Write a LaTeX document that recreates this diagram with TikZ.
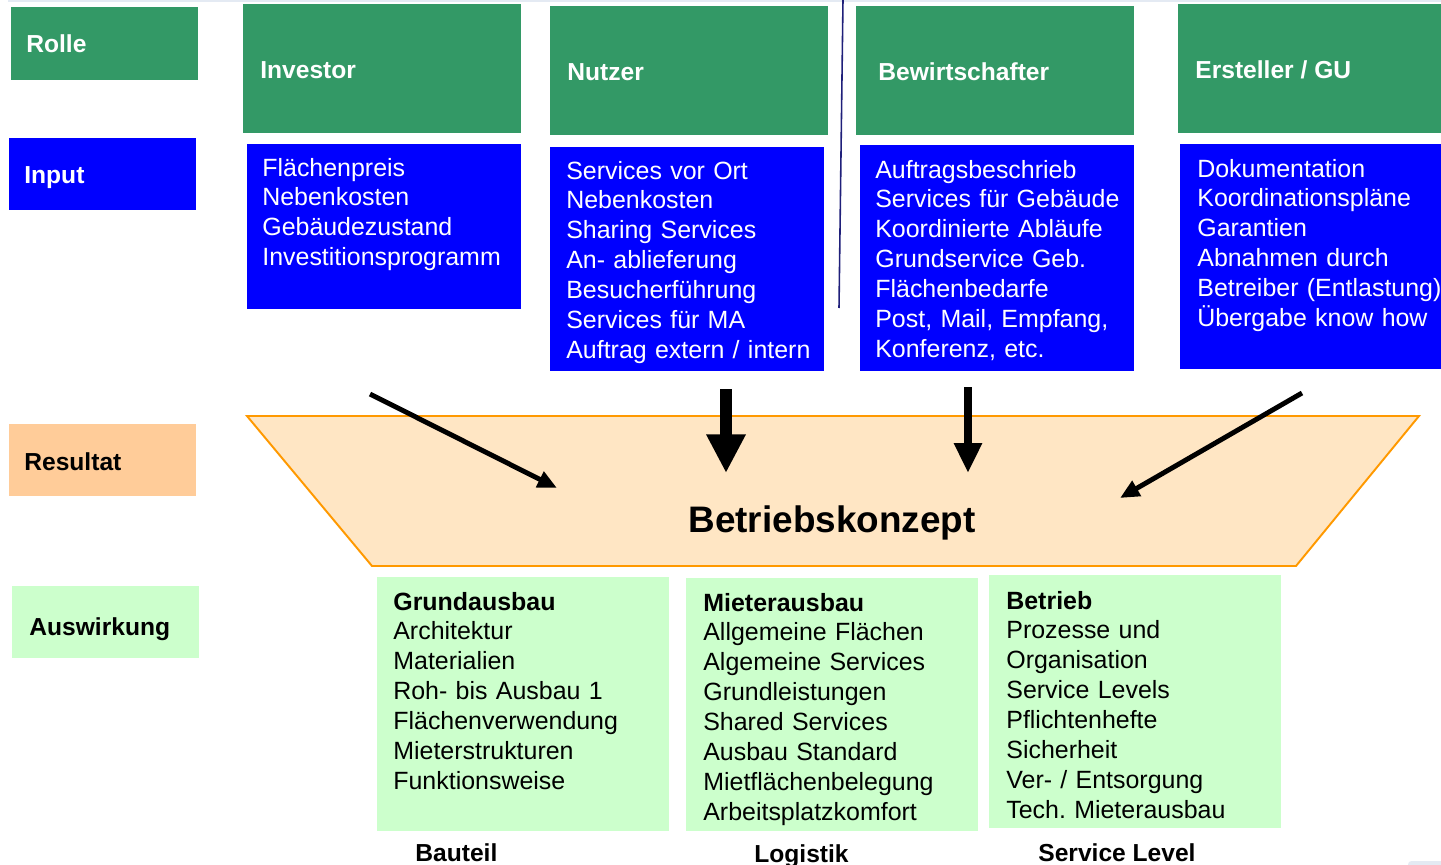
\documentclass[tikz,border=0pt]{standalone}
\usepackage{fontspec}
\setmainfont{Liberation Sans}
\usetikzlibrary{arrows.meta}
\definecolor{rolegreen}{RGB}{51,153,102}
\definecolor{inblue}{RGB}{0,0,255}
\definecolor{resorange}{RGB}{255,204,153}
\definecolor{effgreen}{RGB}{204,255,204}
\definecolor{konzeptfill}{RGB}{255,230,196}
\definecolor{konzeptline}{RGB}{255,153,0}
\definecolor{divider}{RGB}{31,31,122}
\definecolor{topline}{RGB}{228,234,243}
\tikzset{
  box/.style 2 args={anchor=north west, inner sep=0pt, minimum width=#1*0.02cm, minimum height=#2*0.02cm},
  lbl/.style={anchor=base west, inner sep=0pt, font=\bfseries\fontsize{14}{17}\selectfont},
  txt/.style={anchor=base west, inner sep=0pt, text width=#1*0.02cm, align=left, font=\fontsize{14.2}{17.07}\selectfont},
  flow/.style={draw=black, line cap=butt}
}

\begin{document}
\begin{tikzpicture}[x=0.02cm, y=-0.02cm]
\useasboundingbox (0,0) rectangle (1441,865);
\draw[topline, line width=0.8pt] (8,1) -- (1441,1);

\node[box={187}{73}, fill=rolegreen] (rolle) at (11,7) {};
\node[lbl, white] (rolleTxt) at (26,53) {Rolle};
\node[box={187}{72}, fill=inblue] (input) at (9,138) {};
\node[lbl, white] (inputTxt) at (24,184) {Input};
\node[box={187}{72}, fill=resorange] (resultat) at (9,424) {};
\node[lbl] (resultatTxt) at (24,470) {Resultat};
\node[box={187}{72}, fill=effgreen] (auswirkung) at (12,586) {};
\node[lbl] (auswirkungTxt) at (29,635) {Auswirkung};

\node[box={278}{129}, fill=rolegreen] (investor) at (243,4) {};
\node[lbl, white] (investorTxt) at (260,79) {Investor};
\node[box={278}{129}, fill=rolegreen] (nutzer) at (550,6) {};
\node[lbl, white] (nutzerTxt) at (567,81) {Nutzer};
\node[box={278}{129}, fill=rolegreen] (bewirt) at (856,6) {};
\node[lbl, white] (bewirtTxt) at (878,81) {Bewirtschafter};
\node[box={263}{129}, fill=rolegreen] (ersteller) at (1178,4) {};
\node[lbl, white] (erstellerTxt) at (1195,79) {Ersteller / GU};

\draw[divider, line width=0.9pt] (843,0) -- (839,308);

\node[box={274}{165}, fill=inblue] (investorIn) at (247,144) {};
\node[txt=255, white] (investorInTxt) at (262,176) {Flächenpreis\\Nebenkosten\\Gebäudezustand\\Investitionsprogramm};
\node[box={274}{224}, fill=inblue] (nutzerIn) at (550,147) {};
\node[txt=255, white] (nutzerInTxt) at (566,179) {Services vor Ort\\Nebenkosten\\Sharing Services\\An- ablieferung\\Besucherführung\\Services für MA\\Auftrag extern / intern};
\node[box={274}{226}, fill=inblue] (bewirtIn) at (860,145) {};
\node[txt=255, white] (bewirtInTxt) at (875,178) {Auftragsbeschrieb\\Services für Gebäude\\Koordinierte Abläufe\\Grundservice Geb.\\Flächenbedarfe\\Post, Mail, Empfang,\\Konferenz, etc.};
\node[box={261}{225}, fill=inblue] (erstellerIn) at (1180,144) {};
\node[txt=260, white] (erstellerInTxt) at (1197,177) {Dokumentation\\Koordinationspläne\\Garantien\\Abnahmen durch\\Betreiber (Entlastung)\\Übergabe know how};

\draw[konzeptline, fill=konzeptfill, line width=1.1pt] (247,416) -- (1419,416) -- (1296,566) -- (372,566) -- cycle;
\node[anchor=base, inner sep=0pt, font=\bfseries\fontsize{21}{25}\selectfont] (konzept) at (832,532) {Betriebskonzept};

\coordinate (fromInvestor) at (370,394);
\coordinate (toInvestor) at (557,488);
\coordinate (fromNutzer) at (726,389);
\coordinate (toNutzer) at (726,473);
\coordinate (fromBewirt) at (968,387);
\coordinate (toBewirt) at (968,473);
\coordinate (fromErsteller) at (1302,393);
\coordinate (toErsteller) at (1120,498);
\draw[flow, line width=2.8pt, -{Triangle[length=11pt,width=9.5pt]}] (fromInvestor) -- (toInvestor);
\draw[flow, line width=7pt, -{Triangle[length=22pt,width=21pt]}] (fromNutzer) -- (toNutzer);
\draw[flow, line width=5pt, -{Triangle[length=17pt,width=15pt]}] (fromBewirt) -- (toBewirt);
\draw[flow, line width=2.8pt, -{Triangle[length=11pt,width=9.5pt]}] (fromErsteller) -- (toErsteller);

\node[box={292}{254}, fill=effgreen] (grund) at (377,577) {};
\node[txt=275] (grundTxt) at (393,610) {\textbf{Grundausbau}\\Architektur\\Materialien\\Roh- bis Ausbau 1\\Flächenverwendung\\Mieterstrukturen\\Funktionsweise};
\node[box={292}{253}, fill=effgreen] (mieter) at (686,578) {};
\node[txt=275] (mieterTxt) at (703,611) {\textbf{Mieterausbau}\\Allgemeine Flächen\\Algemeine Services\\Grundleistungen\\Shared Services\\Ausbau Standard\\Mietflächenbelegung\\Arbeitsplatzkomfort};
\node[box={292}{253}, fill=effgreen] (betrieb) at (989,575) {};
\node[txt=275] (betriebTxt) at (1006,609) {\textbf{Betrieb}\\Prozesse und\\Organisation\\Service Levels\\Pflichtenhefte\\Sicherheit\\Ver- / Entsorgung\\Tech.\ Mieterausbau};

\node[lbl] (bauteil) at (415,861) {Bauteil};
\node[lbl] (logistik) at (754,862) {Logistik};
\node[lbl] (servicelevel) at (1038,861) {Service Level};

\fill[topline, rounded corners=2pt] (1408,861) rectangle (1446,870);
\end{tikzpicture}
\end{document}
